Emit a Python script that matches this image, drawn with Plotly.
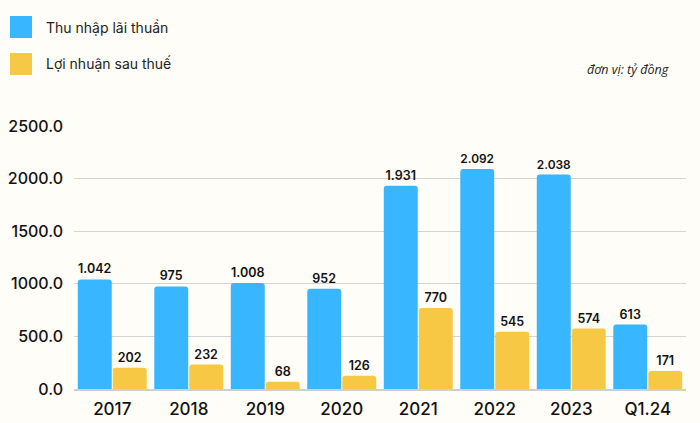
import plotly.graph_objects as go

categories = ["2017", "2018", "2019", "2020", "2021", "2022", "2023", "Q1.24"]
thu_nhap = [1042, 975, 1008, 952, 1931, 2092, 2038, 613]
loi_nhuan = [202, 232, 68, 126, 770, 545, 574, 171]
series_names = ["Thu nhập lãi thuần", "Lợi nhuận sau thuế"]
tick_vals = [0, 500, 1000, 1500, 2000, 2500]
tick_text = ["0.0", "500.0", "1000.0", "1500.0", "2000.0", "2500.0"]

BLUE = "#38B6FF"
YELLOW = "#F7C843"
BG = "#FFFDF7"
FONT = "Inter"


def fmt(v):
    return f"{v:,}".replace(",", ".")


fig = go.Figure()
for name, vals, col in [(series_names[0], thu_nhap, BLUE), (series_names[1], loi_nhuan, YELLOW)]:
    fig.add_trace(go.Bar(
        x=categories, y=vals, name=name, marker=dict(color=col, line=dict(width=0)),
        text=[fmt(v) for v in vals], textposition="outside", cliponaxis=False,
        textfont=dict(family=FONT, size=12.5, color="#111111", weight=600),
        showlegend=False,
    ))

fig.update_layout(
    width=700, height=423,
    paper_bgcolor=BG, plot_bgcolor=BG,
    margin=dict(l=74, r=14, t=126, b=34),
    barmode="group", bargap=0.085, bargroupgap=0.03, barcornerradius=3,
    font=dict(family=FONT, color="#111111"),
    xaxis=dict(showgrid=False, tickfont=dict(size=17, weight=500), ticks="",
               showline=True, linecolor="#cfcfcf", linewidth=1.5, automargin=False,
               ticklabelstandoff=4),
    yaxis=dict(range=[0, 2500], tickvals=tick_vals, ticktext=tick_text,
               tickfont=dict(size=16, weight=500), gridcolor="#d4d4d4", gridwidth=1.2,
               zeroline=False, ticks="", ticklabelstandoff=10, automargin=False),
)

# custom legend
for i, (name, col) in enumerate([(series_names[0], BLUE), (series_names[1], YELLOW)]):
    y0 = 16 + i * 37
    fig.add_shape(type="rect", xref="paper", yref="paper",
                  x0=(10 - 74) / 612, x1=(32 - 74) / 612,
                  y0=(423 - 34 - (y0 + 22)) / 263, y1=(423 - 34 - y0) / 263,
                  fillcolor=col, line=dict(width=0), layer="above")
    fig.add_annotation(xref="paper", yref="paper", x=(44 - 74) / 612,
                       y=(423 - 34 - (y0 + 11)) / 263, text=name, showarrow=False,
                       xanchor="left", yanchor="middle",
                       font=dict(family=FONT, size=14, color="#222222"))

fig.add_annotation(xref="paper", yref="paper", x=(671 - 74) / 612,
                   y=(423 - 34 - 69) / 263, text="<i>đơn vị: tỷ đồng</i>", showarrow=False,
                   xanchor="right", yanchor="middle",
                   font=dict(family="Open Sans", size=12.5, color="#222222"))

fig.write_html("out.html", config={"displayModeBar": False},
               post_script="document.body.style.margin='0';document.body.style.background='%s';" % BG)
